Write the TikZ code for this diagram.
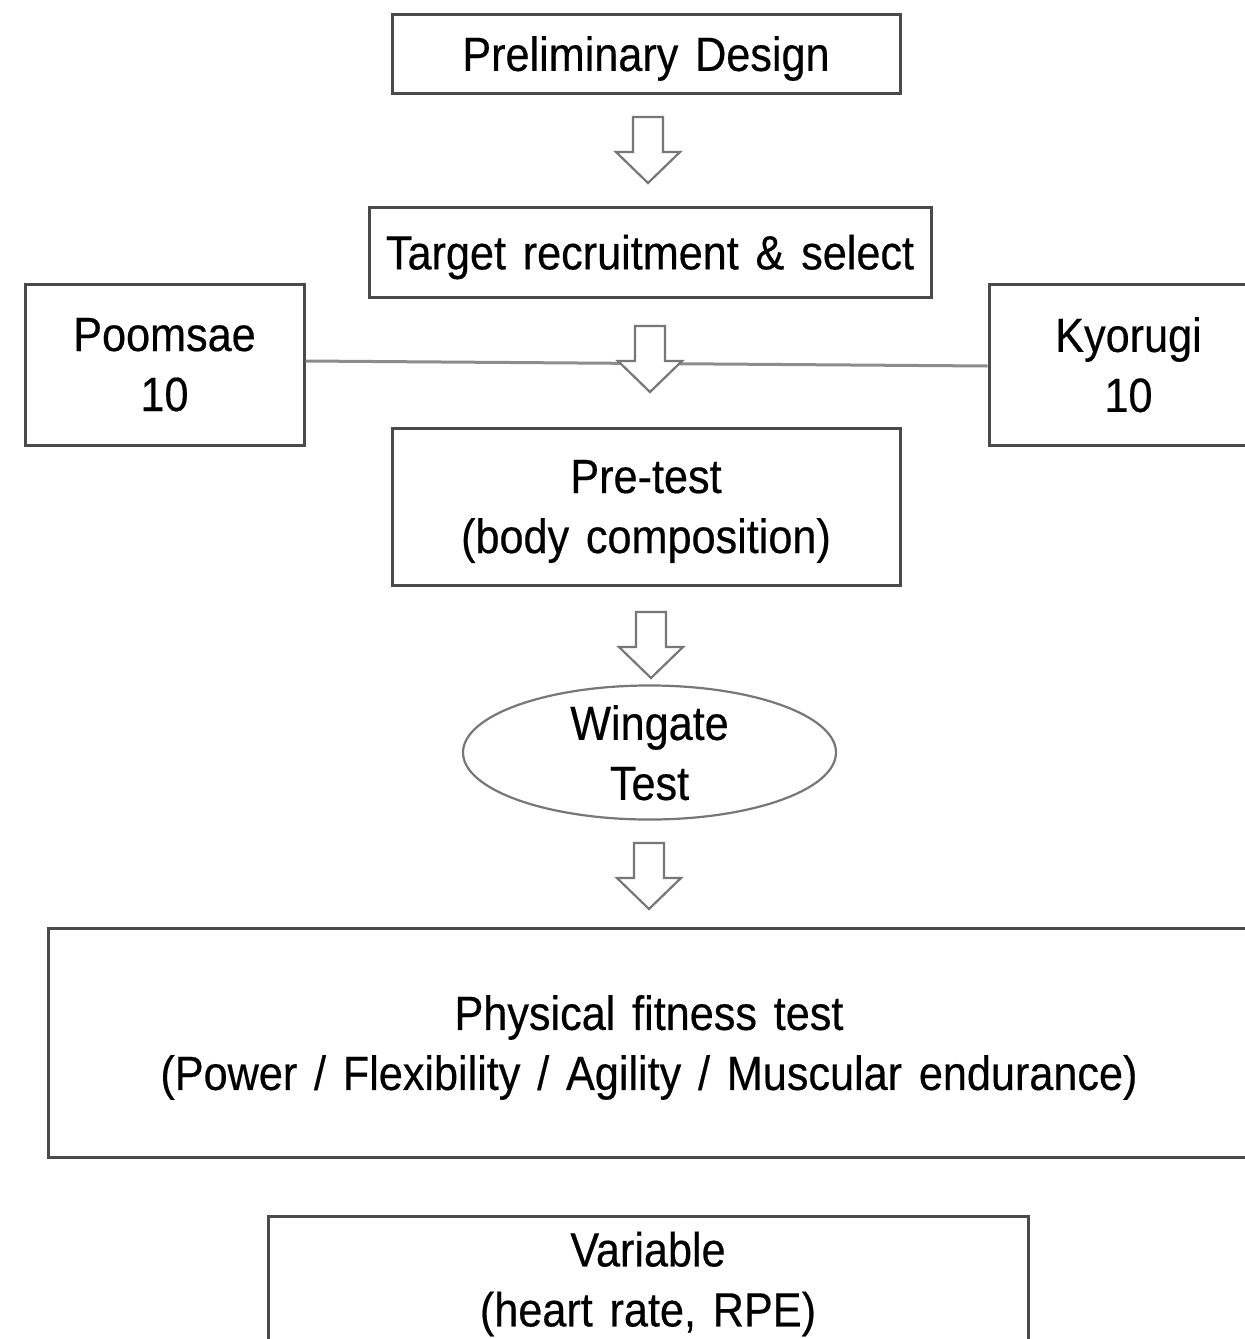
\documentclass[tikz,border=0pt]{standalone}
\usepackage{fontspec}
\setmainfont{Liberation Sans}[FakeStretch=0.9, WordSpace=1.4, FakeBold=0.4]
\usetikzlibrary{shapes.geometric}
\definecolor{boxgray}{HTML}{4A4A4A}
\definecolor{linegray}{HTML}{8C8C8C}
\definecolor{arrgray}{HTML}{777777}
\tikzset{
  x=1pt, y=-1pt,
  every node/.style={font=\fontsize{48}{60}\selectfont, align=center, inner sep=0pt, text depth=0pt},
  stepbox/.style={draw=boxgray, line width=3pt, fill=white, rectangle},
  ovalbox/.style={draw=arrgray, line width=2.2pt, fill=white, ellipse},
  arrowline/.style={draw=arrgray, line width=2.2pt, fill=white, line join=miter},
  blockarrow/.pic={\path[arrowline] (-15,0) -- (15,0) -- (15,35) -- (32,35) -- (0,66) -- (-32,35) -- (-15,35) -- cycle;}
}
\begin{document}
\begin{tikzpicture}
\useasboundingbox (0,0) rectangle (1245,1339);
\clip (0,0) rectangle (1245,1339);
\fill[white] (0,0) rectangle (1245,1339);

\node[stepbox, minimum width=508pt, minimum height=79pt] (pre) at (646,53.5) {Preliminary Design};
\node[stepbox, minimum width=562pt, minimum height=90pt] (tgt) at (650,252) {Target recruitment \& select};
\node[stepbox, minimum width=279pt, minimum height=161pt] (poom) at (164.5,364.5) {Poomsae\\10};
\node[stepbox, minimum width=279pt, minimum height=161pt] (kyo) at (1128.5,364.5) {Kyorugi\\10};
\node[stepbox, minimum width=508pt, minimum height=157pt] (pt) at (646,506.5) {Pre-test\\(body composition)};
\node[ovalbox, minimum width=373pt, minimum height=125pt] (win) at (649.5,752.5) {Wingate\\Test};
\node[stepbox, minimum width=1202pt, minimum height=229pt] (phys) at (649,1042.5) {Physical fitness test\\(Power / Flexibility / Agility / Muscular endurance)};
\node[stepbox, minimum width=760pt, minimum height=126pt] (var) at (648,1279) {Variable\\(heart rate, RPE)};

% connector between groups
\coordinate (pl) at (poom.east |- 0,361);
\coordinate (kl) at (kyo.west |- 0,366);
\draw[linegray, line width=3pt] (pl) -- (kl);

% block arrows between steps
\coordinate (a1) at (648,117);
\coordinate (a2) at (650,326);
\coordinate (a3) at (651,612);
\coordinate (a4) at (649,843);
\pic at (a1) {blockarrow};
\pic at (a2) {blockarrow};
\pic at (a3) {blockarrow};
\pic at (a4) {blockarrow};
\end{tikzpicture}
\end{document}
